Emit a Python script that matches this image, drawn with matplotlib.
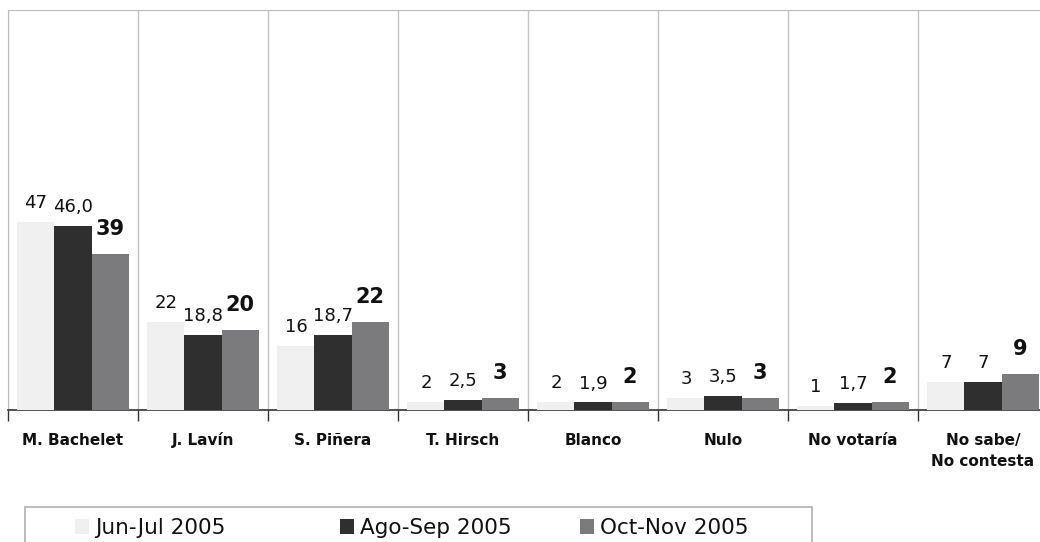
import numpy as np
import matplotlib
matplotlib.use("Agg")
import matplotlib.pyplot as plt
from matplotlib.patches import Rectangle
from matplotlib.transforms import ScaledTranslation


categories = ["M. Bachelet", "J. Lavín", "S. Piñera", "T. Hirsch", "Blanco",
              "Nulo", "No votaría", "No sabe/\nNo contesta"]
series_names = ["Jun-Jul 2005", "Ago-Sep 2005", "Oct-Nov 2005"]
jun_jul = [47, 22, 16, 2, 2, 3, 1, 7]
ago_sep = [46.0, 18.8, 18.7, 2.5, 1.9, 3.5, 1.7, 7]
oct_nov = [39, 20, 22, 3, 2, 3, 2, 9]
ago_sep_labels = ["46,0", "18,8", "18,7", "2,5", "1,9", "3,5", "1,7", "7"]

colors = ["#f0f0f0", "#2f2f2f", "#7b7b7d"]


def plot_chart():
    fig = plt.figure(figsize=(10.4, 5.42), dpi=100)
    ax = fig.add_axes([8 / 1040, 1 - 410 / 542, 1040 / 1040, 400 / 542])

    x = np.arange(len(categories))
    width = 0.285
    all_values = [jun_jul, ago_sep, oct_nov]
    labels = [[str(v) for v in jun_jul], ago_sep_labels, [str(v) for v in oct_nov]]
    bars = []
    for i, (vals, name) in enumerate(zip(all_values, series_names)):
        pos = x + (i - 1) * width
        bars.append(ax.bar(pos, vals, width, color=colors[i], label=name, zorder=3))
        bold = i == 2
        for p, v, lab in zip(pos, vals, labels[i]):
            ax.annotate(lab, (p, v), xytext=(0, 13.5 if bold else 10),
                        textcoords="offset points", ha="center", va="baseline",
                        fontsize=15 if bold else 13,
                        fontweight="bold" if bold else "normal",
                        color="#111111")

    ax.set_xlim(-0.5, len(categories) - 0.5)
    ax.set_ylim(0, 100)
    ax.set_yticks([])
    ax.set_xticks(x)
    ax.set_xticklabels([])
    # category names, first line of each on a common baseline
    for xi, cat in zip(x, categories):
        n_extra = cat.count("\n")
        shift = ScaledTranslation(0, -(0.35 + 0.21 * n_extra), fig.dpi_scale_trans)
        ax.text(xi, 0, cat, transform=ax.get_xaxis_transform() + shift,
                ha="center", va="baseline", fontsize=11, fontweight="bold",
                color="#111111", linespacing=1.5)
    ax.set_xticks(np.arange(len(categories) + 1) - 0.5, minor=True)
    ax.tick_params(axis="x", which="major", length=0)
    ax.tick_params(axis="x", which="minor", length=8, width=1, color="#333333")
    ax.grid(which="minor", axis="x", color="#c4c4c4", linewidth=1)
    ax.set_axisbelow(True)

    for side in ["left", "top"]:
        ax.spines[side].set_color("#bdbdbd")
    ax.spines["right"].set_visible(False)
    ax.spines["bottom"].set_color("#333333")
    ax.spines["bottom"].set_linewidth(1.2)

    # legend box, cut by the bottom edge
    fig.patches.append(Rectangle((25 / 1040, -0.05), 787 / 1040, 0.05 + 35 / 542,
                                 transform=fig.transFigure, fill=False,
                                 edgecolor="#b0b0b0", linewidth=1.2))
    fs = 15.5
    hs = 14 / (fs * 100 / 72)
    for b, name, left in zip(bars, series_names, [75, 340, 580]):
        fig.legend(handles=[b], labels=[name], loc="center left",
                   bbox_to_anchor=(left / 1040, 1 - 528 / 542),
                   frameon=False, fontsize=fs, borderpad=0, borderaxespad=0,
                   handlelength=hs, handleheight=hs, handletextpad=0.3,
                   labelcolor="#111111")

    fig.savefig("out.png", dpi=100)


if __name__ == "__main__":
    plot_chart()
